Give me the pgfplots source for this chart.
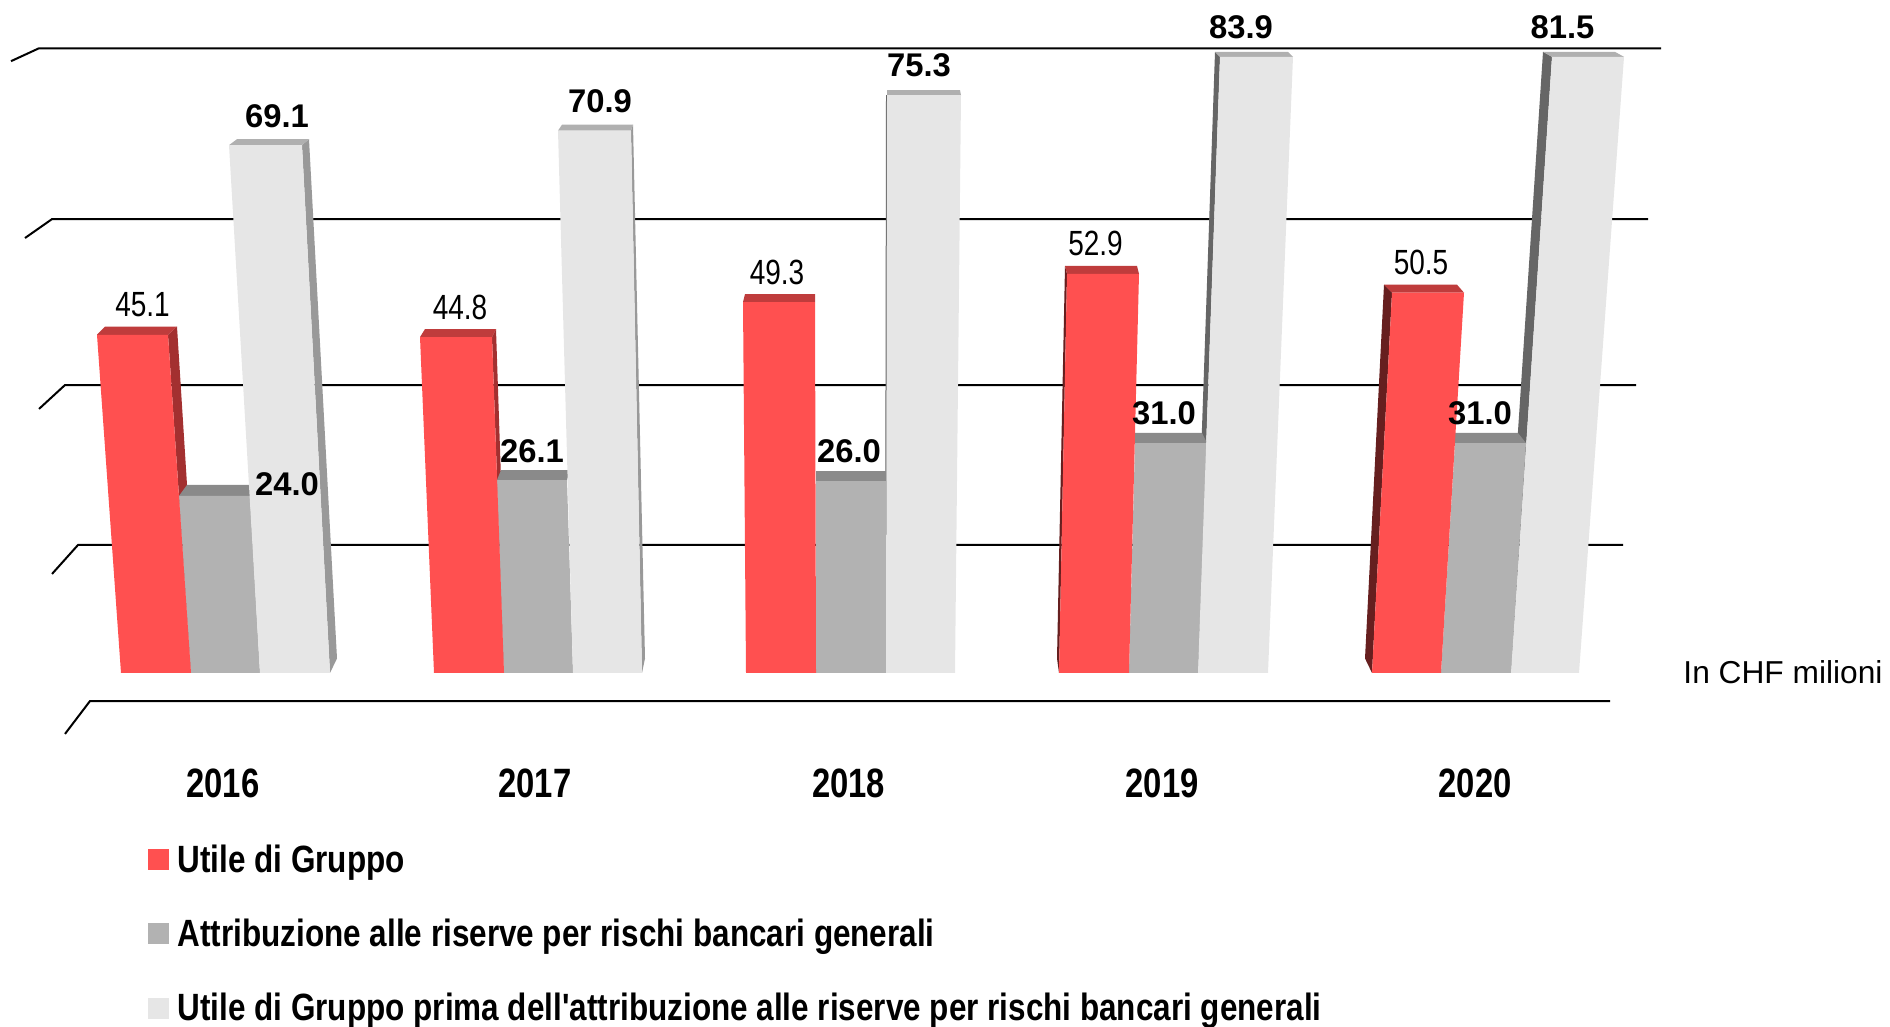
\documentclass[border=0pt]{standalone}
\usepackage{fontspec}
\usepackage{pgfplots}
\usepackage{pgfplotstable}
\pgfplotsset{compat=1.18}
\setmainfont{Liberation Sans}
\newfontfamily\narrowtick[FakeStretch=0.8]{Liberation Sans}
\newfontfamily\narrowleg[FakeStretch=0.828]{Liberation Sans}
\newfontfamily\narrowval[FakeStretch=0.8]{Liberation Sans}
\definecolor{rf}{HTML}{FF5050}\definecolor{rc}{HTML}{BF3C3C}\definecolor{rs}{HTML}{A33030}\definecolor{rl}{HTML}{661F1F}
\definecolor{mf}{HTML}{B2B2B2}\definecolor{mc}{HTML}{8A8A8A}
\definecolor{lf}{HTML}{E6E6E6}\definecolor{lc}{HTML}{B0B0B0}\definecolor{ls}{HTML}{999999}\definecolor{ll}{HTML}{666666}
\newcommand\face[2]{\addplot[fill=#1,draw=none,forget plot] coordinates {#2};}
\newcommand\gline[1]{\addplot[black,line width=1pt,forget plot] coordinates {#1};}
% label x position, value at which the bar is drawn, label text
\pgfplotstableread{
x y lab
142.5 45.1 45.1
460 44.8 44.8
777 49.3 49.3
1095.5 52.9 52.9
1421 50.5 50.5
}\redlabels
\pgfplotstableread{
x y lab
277 69.1 69.1
600 70.9 70.9
532 26.1 26.1
919 75.3 75.3
849 26.0 26.0
1241 80 83.9
1164 31.0 31.0
1562.5 80 81.5
1480 31.0 31.0
}\boldlabels
\pgfplotstableread{
x y lab
287 24.0 24.0
}\lowlabel
\begin{document}
\begin{tikzpicture}
\begin{axis}[
  name=ax, at={(0,0)}, anchor=south west,
  scale only axis, width=945pt, height=513.5pt,
  xmin=0, xmax=1890, ymin=-51, ymax=86.93,
  % the reference's perspective: drawn height grows slightly faster than the value
  y coord trafo/.code={\pgfmathparse{7.239*(#1)+0.0058*(#1)*(#1)}},
  clip=false,
  axis line style={draw=none}, major tick length=0pt,
  ytick=\empty,
  xtick={223,535,848.6,1162,1475},
  xticklabels={2016,2017,2018,2019,2020},
  xticklabel style={font=\narrowtick\bfseries\fontsize{20.5}{20.5}\selectfont,anchor=center,yshift=122pt},
  legend cell align=left,
  legend image code/.code={\fill[#1] (0pt,-4.7pt) rectangle (10pt,5.3pt);},
  legend style={at={(rel axis cs:0.0783,0.178)},anchor=north west,draw=none,fill=none,inner sep=0pt,
    font=\narrowleg\bfseries\fontsize{19}{19}\selectfont,row sep=21.9pt,
    nodes={inner sep=0pt,outer sep=0pt},
    /tikz/every odd column/.append style={column sep=4.2pt}},
]
% back-wall lines
\gline{(11,79.47)(39,81.05)(1661,81.05)}
\gline{(25,57.45)(52,59.84)(1648,59.84)}
\gline{(39,35.47)(65,38.59)(1636,38.59)}
\gline{(52,13.53)(78,17.44)(1623,17.44)}
\gline{(65,-8.48)(90,-3.89)(1610,-3.89)}
% 2016
\face{rs}{(168,45.1)(177,46.15)(198,2)(191,0)}
\face{rc}{(97,45.1)(168,45.1)(177,46.15)(105,46.15)}
\face{ls}{(302,69.1)(309,69.85)(337,2)(330,0)}
\face{lc}{(229,69.1)(302,69.1)(309,69.85)(237,69.85)}
\face{mc}{(179,24)(250,24)(258,25.46)(187,25.46)}
\face{mf}{(191,0)(260,0)(250,24)(179,24)}
\face{rf}{(121,0)(191,0)(168,45.1)(97,45.1)}
\face{lf}{(260,0)(330,0)(302,69.1)(229,69.1)}
% 2017
\face{rs}{(492,44.8)(496,45.83)(507,2)(504,0)}
\face{rc}{(420,44.8)(492,44.8)(496,45.83)(425,45.83)}
\face{ls}{(631,70.9)(633,71.65)(645,2)(642,0)}
\face{lc}{(558,70.9)(631,70.9)(633,71.65)(562,71.65)}
\face{mc}{(497,26.1)(567,26.1)(570,27.43)(501,27.43)}
\face{mf}{(504,0)(573,0)(567,26.1)(497,26.1)}
\face{rf}{(434,0)(504,0)(492,44.8)(420,44.8)}
\face{lf}{(573,0)(642,0)(631,70.9)(558,70.9)}
% 2018
\face{rc}{(743,49.3)(815,49.3)(815,50.32)(745,50.32)}
\face{ll}{(886,75.3)(887.5,75.3)(886.5,0)(885,0)}
\face{lc}{(887,75.3)(961,75.3)(960,75.92)(887,75.92)}
\face{mc}{(816,26)(886,26)(886,27.33)(816,27.33)}
\face{mf}{(816,0)(886,0)(886,26)(816,26)}
\face{rf}{(746,0)(816,0)(815,49.3)(743,49.3)}
\face{lf}{(886,0)(955,0)(961,75.3)(887,75.3)}
% 2019
\face{rl}{(1067,52.9)(1065,53.92)(1057,2)(1059,0)}
\face{rc}{(1067,52.9)(1139,52.9)(1137,53.92)(1065,53.92)}
\face{ll}{(1220,80)(1215,80.61)(1194,2)(1198,0)}
\face{lc}{(1220,80)(1293,80)(1288,80.61)(1215,80.61)}
\face{mc}{(1135,31)(1207,31)(1202,32.32)(1130,32.32)}
\face{mf}{(1129,0)(1198,0)(1207,31)(1135,31)}
\face{rf}{(1059,0)(1129,0)(1139,52.9)(1067,52.9)}
\face{lf}{(1198,0)(1268,0)(1293,80)(1220,80)}
% 2020
\face{rl}{(1392,50.5)(1384,51.52)(1365,2)(1372,0)}
\face{rc}{(1392,50.5)(1464,50.5)(1457,51.52)(1384,51.52)}
\face{ll}{(1552,80)(1543,80.61)(1503,2)(1511,0)}
\face{lc}{(1552,80)(1624,80)(1615,80.61)(1543,80.61)}
\face{mc}{(1455,31)(1526,31)(1518,32.32)(1447,32.32)}
\face{mf}{(1441,0)(1511,0)(1526,31)(1455,31)}
\face{rf}{(1372,0)(1441,0)(1464,50.5)(1392,50.5)}
\face{lf}{(1511,0)(1579,0)(1624,80)(1552,80)}
% value labels
\addplot[draw=none,forget plot,point meta=explicit symbolic,nodes near coords,
  every node near coord/.style={anchor=center,yshift=15pt,text=black,font=\narrowval\fontsize{17.5}{17.5}\selectfont}]
  table[x=x,y=y,meta=lab]{\redlabels};
\addplot[draw=none,forget plot,point meta=explicit symbolic,nodes near coords,
  every node near coord/.style={anchor=center,yshift=14.7pt,text=black,font=\bfseries\fontsize{16.4}{16.4}\selectfont}]
  table[x=x,y=y,meta=lab]{\boldlabels};
\addplot[draw=none,forget plot,point meta=explicit symbolic,nodes near coords,
  every node near coord/.style={anchor=center,yshift=6pt,text=black,font=\bfseries\fontsize{16.4}{16.4}\selectfont}]
  table[x=x,y=y,meta=lab]{\lowlabel};
\node[anchor=west,inner sep=0pt,font=\fontsize{15.85}{15.85}\selectfont] at (rel axis cs:0.8905,0.3457) {In CHF milioni};
\addlegendimage{rf}
\addlegendimage{mf}
\addlegendimage{lf}
\legend{Utile di Gruppo,Attribuzione alle riserve per rischi bancari generali,Utile di Gruppo prima dell'attribuzione alle riserve per rischi bancari generali}
\end{axis}
\pgfresetboundingbox
\path[use as bounding box] (ax.south west) rectangle (ax.north east);
\end{tikzpicture}
\end{document}
